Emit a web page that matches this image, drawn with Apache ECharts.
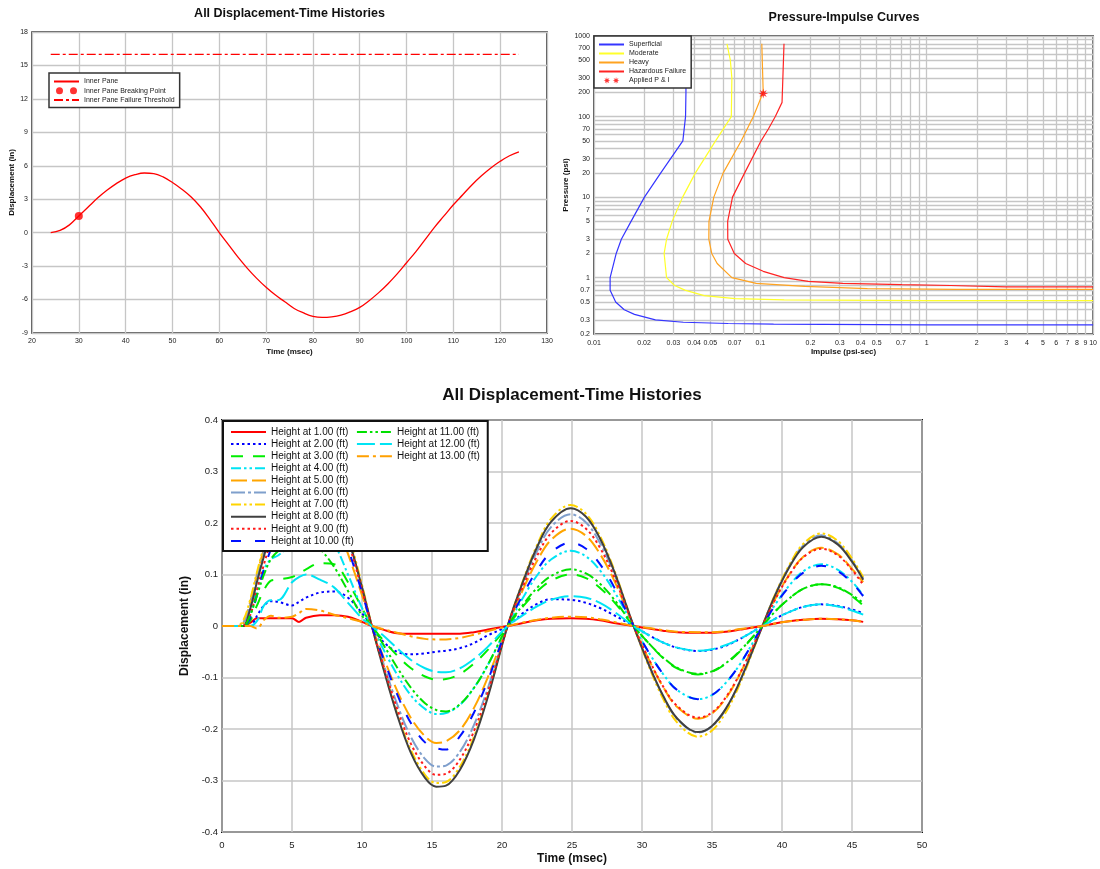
<!DOCTYPE html>
<html><head><meta charset="utf-8">
<script src="https://cdn.jsdelivr.net/npm/echarts@6/dist/echarts.min.js"></script>
<style>html,body{margin:0;padding:0;background:#fff}#c{width:1100px;height:869px}</style>
</head><body><div id="c"></div>
<script>
// ---------- Chart 1 data ----------
const paneTime = [24,26,28,30,32,34,36,38,40,42,44,46,48,50,52,54,56,58,60,62,64,66,68,70,72,74,76,78,80,82,84,86,88,90,92,94,96,98,100,102,104,106,108,110,112,114,116,118,120,122,124];
const paneDisp = [0,0.2,0.7,1.5,2.3,3.1,3.8,4.4,4.9,5.2,5.35,5.3,5.0,4.5,3.9,3.2,2.3,1.2,0.0,-1.1,-2.2,-3.2,-4.1,-4.9,-5.6,-6.2,-6.8,-7.2,-7.5,-7.6,-7.55,-7.4,-7.1,-6.7,-6.1,-5.4,-4.6,-3.7,-2.7,-1.7,-0.6,0.5,1.5,2.5,3.4,4.3,5.1,5.8,6.4,6.9,7.25];
const breakTime = [30];
const breakDisp = [1.5];
const thresholdTime = [24, 124];
const thresholdDisp = [16, 16];

// ---------- Chart 2 data (impulse psi-sec, pressure psi) ----------
const supI = [0.0357,0.0357,0.0355,0.0342,0.0252,0.0201,0.0167,0.0146,0.0136,0.0125,0.0125,0.0135,0.0152,0.0175,0.0234,0.0344,0.064,0.12,1,10];
const supP = [800,200,100,50,20,10,5,3,2,1,0.7,0.5,0.4,0.35,0.3,0.28,0.27,0.265,0.26,0.26];
const modI = [0.063,0.066,0.0674,0.0669,0.0538,0.0407,0.0341,0.0295,0.0273,0.0264,0.0273,0.0305,0.0352,0.0459,0.0707,0.139,1,10];
const modP = [800,500,300,100,50,20,10,5,3,2,1,0.8,0.7,0.6,0.55,0.53,0.52,0.52];
const heavyI = [0.102,0.104,0.0908,0.0768,0.0598,0.0525,0.0491,0.049,0.051,0.055,0.0674,0.0944,0.185,0.44,1.5,10];
const heavyP = [800,200,100,50,20,10,5,3,2,1.5,1,0.85,0.78,0.73,0.715,0.715];
const hazI = [0.1387,0.135,0.123,0.1117,0.101,0.0805,0.068,0.0636,0.0637,0.0697,0.0816,0.104,0.139,0.194,0.313,0.71,1.39,3,10];
const hazP = [800,150,100,70,50,20,10,5,3,2,1.5,1.2,1,0.9,0.85,0.82,0.8,0.77,0.77];
const appliedI = [0.104];
const appliedP = [193];
const impulseLabels = [0.01,0.02,0.03,0.04,0.05,0.07,0.1,0.2,0.3,0.4,0.5,0.7,1,2,3,4,5,6,7,8,9,10];
const impulseGrid = [0.01,0.02,0.03,0.04,0.05,0.06,0.07,0.08,0.09,0.1,0.2,0.3,0.4,0.5,0.6,0.7,0.8,0.9,1,2,3,4,5,6,7,8,9,10];
const pressureLabels = [0.2,0.3,0.5,0.7,1,2,3,5,7,10,20,30,50,70,100,200,300,500,700,1000];
const pressureGrid = [0.2,0.3,0.4,0.5,0.6,0.7,0.8,0.9,1,2,3,4,5,6,7,8,9,10,20,30,40,50,60,70,80,90,100,200,300,400,500,600,700,800,900,1000];

// ---------- Chart 3 data ----------
const time = [0,1,1.5,2,2.5,3,3.5,4,5,5.5,6,7,8,9,10,10.7,11.5,12.5,13.5,14.5,15.3,16,17,18,19,20.4,21.5,22.5,23.5,24.9,26,27,28,29.4,30.5,31.5,32.5,34,35,36,37,38.6,39.5,40.5,41.5,42.8,44,45,45.8];
const h1 = [0,0,0,0.006,0.015,0.015,0.015,0.015,0.015,0.008,0.016,0.021,0.021,0.018,0.008,0,-0.007,-0.014,-0.015,-0.015,-0.015,-0.015,-0.015,-0.012,-0.007,0,0.006,0.011,0.014,0.015,0.014,0.011,0.006,0,-0.005,-0.009,-0.012,-0.013,-0.013,-0.011,-0.007,0,0.005,0.009,0.012,0.014,0.013,0.011,0.008];
const h2 = [0,0,0,0,0.02,0.04,0.048,0.047,0.04,0.047,0.055,0.065,0.067,0.055,0.025,0,-0.03,-0.05,-0.055,-0.053,-0.05,-0.048,-0.043,-0.033,-0.018,0,0.025,0.043,0.052,0.051,0.045,0.035,0.021,0,-0.018,-0.032,-0.042,-0.0485,-0.046,-0.038,-0.025,0,0.014,0.027,0.037,0.042,0.039,0.032,0.025];
const h3 = [0,0,0,0.01,0.04,0.07,0.088,0.09,0.095,0.102,0.11,0.122,0.12,0.085,0.035,0,-0.027,-0.057,-0.082,-0.098,-0.104,-0.103,-0.093,-0.073,-0.046,0,0.038,0.067,0.088,0.1,0.093,0.074,0.047,0,-0.034,-0.062,-0.082,-0.094,-0.089,-0.073,-0.049,0,0.028,0.053,0.072,0.081,0.074,0.058,0.04];
const h4 = [0,0,0,0.02,0.07,0.11,0.13,0.137,0.16,0.178,0.19,0.19,0.16,0.1,0.035,0,-0.044,-0.094,-0.135,-0.161,-0.171,-0.169,-0.153,-0.12,-0.075,0,0.055,0.098,0.129,0.146,0.135,0.108,0.068,0,-0.052,-0.093,-0.124,-0.142,-0.134,-0.11,-0.074,0,0.041,0.078,0.106,0.12,0.109,0.086,0.06];
const h5 = [0,0,0.005,0.045,0.1,0.15,0.19,0.22,0.26,0.268,0.27,0.25,0.21,0.14,0.06,0,-0.058,-0.125,-0.179,-0.214,-0.227,-0.224,-0.202,-0.159,-0.099,0,0.071,0.126,0.167,0.189,0.175,0.14,0.089,0,-0.066,-0.118,-0.157,-0.18,-0.17,-0.14,-0.093,0,0.052,0.099,0.134,0.152,0.139,0.111,0.085];
const h6 = [0,0,0.005,0.04,0.095,0.145,0.19,0.23,0.28,0.293,0.3,0.29,0.25,0.17,0.075,0,-0.07,-0.151,-0.216,-0.258,-0.273,-0.271,-0.244,-0.192,-0.12,0,0.081,0.145,0.192,0.217,0.201,0.161,0.102,0,-0.076,-0.136,-0.18,-0.207,-0.195,-0.161,-0.107,0,0.06,0.115,0.156,0.176,0.16,0.127,0.092];
const h7 = [0,0,0.01,0.05,0.105,0.155,0.2,0.24,0.29,0.303,0.31,0.3,0.26,0.18,0.08,0,-0.078,-0.169,-0.241,-0.289,-0.305,-0.303,-0.273,-0.215,-0.134,0,0.088,0.157,0.208,0.235,0.218,0.175,0.11,0,-0.079,-0.141,-0.187,-0.215,-0.203,-0.167,-0.112,0,0.061,0.117,0.159,0.18,0.165,0.131,0.095];
const h8 = [0,0,0,0.032,0.086,0.136,0.182,0.223,0.283,0.3,0.309,0.298,0.251,0.173,0.075,0,-0.08,-0.172,-0.247,-0.295,-0.312,-0.31,-0.279,-0.22,-0.137,0,0.086,0.153,0.202,0.2285,0.212,0.17,0.107,0,-0.076,-0.135,-0.179,-0.206,-0.194,-0.16,-0.107,0,0.059,0.113,0.153,0.1735,0.158,0.125,0.09];
const h9 = [0,0,0,0.02,0.07,0.12,0.165,0.2,0.26,0.278,0.29,0.28,0.24,0.165,0.07,0,-0.074,-0.16,-0.229,-0.273,-0.289,-0.287,-0.259,-0.204,-0.127,0,0.077,0.136,0.18,0.204,0.189,0.152,0.096,0,-0.065,-0.117,-0.155,-0.178,-0.168,-0.138,-0.092,0,0.051,0.098,0.133,0.15,0.137,0.109,0.08];
const h10 = [0,0,0,0.015,0.06,0.11,0.15,0.185,0.24,0.258,0.27,0.26,0.22,0.15,0.065,0,-0.061,-0.132,-0.189,-0.226,-0.237,-0.24,-0.214,-0.168,-0.105,0,0.061,0.108,0.143,0.162,0.15,0.12,0.076,0,-0.052,-0.093,-0.124,-0.142,-0.134,-0.11,-0.074,0,0.04,0.076,0.103,0.117,0.106,0.084,0.058];
const h11 = [0,0,0,0.02,0.06,0.1,0.13,0.145,0.165,0.17,0.172,0.15,0.115,0.068,0.02,0,-0.035,-0.08,-0.12,-0.15,-0.163,-0.166,-0.152,-0.12,-0.075,0,0.041,0.074,0.097,0.11,0.102,0.082,0.052,0,-0.034,-0.061,-0.081,-0.093,-0.088,-0.072,-0.048,0,0.028,0.053,0.072,0.081,0.075,0.06,0.045];
const h12 = [0,0,0,0,0.01,0.04,0.05,0.05,0.085,0.095,0.1,0.09,0.075,0.045,0.015,0,-0.018,-0.043,-0.066,-0.082,-0.089,-0.09,-0.082,-0.064,-0.04,0,0.021,0.038,0.051,0.058,0.055,0.045,0.028,0,-0.018,-0.032,-0.042,-0.048,-0.045,-0.037,-0.025,0,0.014,0.027,0.037,0.042,0.038,0.03,0.022];
const h13 = [0,0,0,0,-0.005,0.012,0.02,0.016,0.018,0.025,0.033,0.03,0.022,0.015,0.008,0,-0.006,-0.013,-0.02,-0.025,-0.026,-0.026,-0.023,-0.017,-0.01,0,0.007,0.012,0.016,0.018,0.017,0.013,0.008,0,-0.004,-0.008,-0.011,-0.012,-0.012,-0.01,-0.006,0,0.005,0.009,0.012,0.014,0.013,0.011,0.008];
const heightNames = ['Height at 1.00 (ft)','Height at 2.00 (ft)','Height at 3.00 (ft)','Height at 4.00 (ft)','Height at 5.00 (ft)','Height at 6.00 (ft)','Height at 7.00 (ft)','Height at 8.00 (ft)','Height at 9.00 (ft)','Height at 10.00 (ft)','Height at 11.00 (ft)','Height at 12.00 (ft)','Height at 13.00 (ft)'];
const heightValues = [h1,h2,h3,h4,h5,h6,h7,h8,h9,h10,h11,h12,h13];

// ---------- styles ----------
const FONT = '"Liberation Sans", Arial, Helvetica, sans-serif';
const GRIDC = '#c6c6c6';
const heightColors = ['#ff0000','#0000ff','#00ee00','#00e4f4','#ffa500','#7f9fcc','#ffd400','#404040','#ff1a1a','#0010ff','#00e000','#00e4f4','#ffa000'];
const DOT = [2.5,3], LDASH = [12,10], DASHDOT = [14,3,3,3], DDD = [10,3,2.5,3,2.5,3];
const heightDash = ['solid',DOT,LDASH,DDD,[16,5],DASHDOT,DDD,'solid',DOT,[10,14],DDD,[18,5],[12,4,3,4]];

function zip(xs, ys){ return xs.map((x,i)=>[x, ys[i]]); }
const twoDots = 'path://M0,3a3,3 0 1,0 6,0a3,3 0 1,0 -6,0zM12,3a3,3 0 1,0 6,0a3,3 0 1,0 -6,0z';
const starPath = 'M10,5L6.85,5.77L8.54,8.54L5.77,6.85L5,10L4.23,6.85L1.46,8.54L3.15,5.77L0,5L3.15,4.23L1.46,1.46L4.23,3.15L5,0L5.77,3.15L8.54,1.46L6.85,4.23Z';
const twoStars = 'path://' + starPath + 'M23,5L19.85,5.77L21.54,8.54L18.77,6.85L18,10L17.23,6.85L14.46,8.54L16.15,5.77L13,5L16.15,4.23L14.46,1.46L17.23,3.15L18,0L18.77,3.15L21.54,1.46L19.85,4.23Z';
const noSym = {color:'rgba(0,0,0,0)', borderWidth:0, opacity:0};
function lineItem(name){ return {name:name, itemStyle:noSym}; }

function fmtNum(v){ return String(+(+v).toPrecision(4)); }

const smallLabel = {fontSize:7, color:'#222', fontFamily:FONT};
const smallName = {fontSize:8, fontWeight:'bold', color:'#111', fontFamily:FONT};
const split = {show:true, lineStyle:{color:GRIDC, width:1.3}};

const series = [];
// chart 1
series.push({name:'Inner Pane', type:'line', xAxisIndex:0, yAxisIndex:0, data:zip(paneTime,paneDisp), smooth:0.4, symbol:'none', lineStyle:{color:'#ff0000', width:1.3}, itemStyle:{color:'#ff0000'}, z:3});
series.push({name:'Inner Pane Breaking Point', type:'scatter', xAxisIndex:0, yAxisIndex:0, data:zip(breakTime,breakDisp), symbol:'circle', symbolSize:8, itemStyle:{color:'#ff0000'}, z:4});
series.push({name:'Inner Pane Failure Threshold', type:'line', xAxisIndex:0, yAxisIndex:0, data:zip(thresholdTime,thresholdDisp), symbol:'none', lineStyle:{color:'#ff0000', width:1.3, type:[9,3,3,3]}, itemStyle:{color:'#ff0000'}, z:3});
// chart 2
const piDefs = [['Superficial',supI,supP,'#3535ff'],['Moderate',modI,modP,'#ffff2a'],['Heavy',heavyI,heavyP,'#ffa320'],['Hazardous Failure',hazI,hazP,'#ff2424']];
piDefs.forEach(d=>series.push({name:d[0], type:'line', xAxisIndex:1, yAxisIndex:1, data:zip(d[1],d[2]), symbol:'none', lineStyle:{color:d[3], width:1.2}, itemStyle:{color:d[3]}, z:3}));
series.push({name:'Applied P & I', type:'scatter', xAxisIndex:1, yAxisIndex:1, data:zip(appliedI,appliedP), symbol:'path://'+starPath, symbolSize:10, itemStyle:{color:'#ff0000'}, z:4});
// chart 3
heightValues.forEach((vals,i)=>series.push({name:heightNames[i], type:'line', xAxisIndex:2, yAxisIndex:2, data:zip(time,vals), smooth:0.35, symbol:'none', lineStyle:{color:heightColors[i], width:2, type:heightDash[i]}, itemStyle:{color:heightColors[i]}, z:3}));

const option = {
  animation:false,
  backgroundColor:'#fff',
  textStyle:{fontFamily:FONT},
  title:[
    {text:'All Displacement-Time Histories', left:289.5, top:7, textAlign:'center', padding:0, textStyle:{fontSize:12.5, fontWeight:'bold', color:'#111', fontFamily:FONT}},
    {text:'Pressure-Impulse Curves', left:844, top:11, textAlign:'center', padding:0, textStyle:{fontSize:12.5, fontWeight:'bold', color:'#111', fontFamily:FONT}},
    {text:'All Displacement-Time Histories', left:572, top:387, textAlign:'center', padding:0, textStyle:{fontSize:17, fontWeight:'bold', color:'#111', fontFamily:FONT}}
  ],
  grid:[
    {left:32, top:32, width:515, height:301, show:true, borderColor:'#222', borderWidth:1.5, backgroundColor:'transparent'},
    {left:594, top:36, width:500, height:298, show:true, borderColor:'#222', borderWidth:1.5, backgroundColor:'transparent'},
    {left:222, top:420, width:700, height:412, show:true, borderColor:'#111', borderWidth:2, backgroundColor:'transparent'}
  ],
  xAxis:[
    {type:'value', gridIndex:0, min:20, max:130, interval:10, axisLine:{show:false}, axisTick:{show:false},
     axisLabel:Object.assign({margin:5}, smallLabel), splitLine:split,
     name:'Time (msec)', nameLocation:'middle', nameGap:15, nameTextStyle:smallName},
    {type:'log', gridIndex:1, logBase:10, min:0.01, max:10, axisLine:{show:false},
     axisTick:{show:false, customValues:impulseGrid},
     axisLabel:Object.assign({margin:6, customValues:impulseLabels, formatter:fmtNum, showMinLabel:true, showMaxLabel:true}, smallLabel),
     splitLine:split,
     name:'Impulse (psi-sec)', nameLocation:'middle', nameGap:14, nameTextStyle:smallName},
    {type:'value', gridIndex:2, min:0, max:50, interval:5, axisLine:{show:false}, axisTick:{show:false},
     axisLabel:{margin:8, fontSize:9.5, color:'#222', fontFamily:FONT}, splitLine:{show:true, lineStyle:{color:GRIDC, width:1.5}},
     name:'Time (msec)', nameLocation:'middle', nameGap:21, nameTextStyle:{fontSize:12, fontWeight:'bold', color:'#111', fontFamily:FONT}}
  ],
  yAxis:[
    {type:'value', gridIndex:0, min:-9, max:18, interval:3, axisLine:{show:false}, axisTick:{show:false},
     axisLabel:Object.assign({margin:4}, smallLabel), splitLine:split,
     name:'Displacement (in)', nameLocation:'middle', nameGap:16, nameTextStyle:smallName},
    {type:'log', gridIndex:1, logBase:10, min:0.2, max:1000, axisLine:{show:false},
     axisTick:{show:false, customValues:pressureGrid},
     axisLabel:Object.assign({margin:4, customValues:pressureLabels, formatter:fmtNum, showMinLabel:true, showMaxLabel:true}, smallLabel),
     splitLine:split,
     name:'Pressure (psi)', nameLocation:'middle', nameGap:24, nameTextStyle:smallName},
    {type:'value', gridIndex:2, min:-0.4, max:0.4, interval:0.1, axisLine:{show:false}, axisTick:{show:false},
     axisLabel:{margin:4, fontSize:9.5, color:'#222', fontFamily:FONT, formatter:v=>fmtNum(v.toFixed(1))}, splitLine:{show:true, lineStyle:{color:GRIDC, width:1.5}},
     name:'Displacement (in)', nameLocation:'middle', nameGap:27, nameTextStyle:{fontSize:12, fontWeight:'bold', color:'#111', fontFamily:FONT}}
  ],
  legend:[
    {data:[lineItem('Inner Pane'),{name:'Inner Pane Breaking Point', icon:twoDots},lineItem('Inner Pane Failure Threshold')],
     orient:'vertical', left:49, top:73, padding:[5,5,4,4], itemWidth:25, itemHeight:7, itemGap:2.3,
     backgroundColor:'#fff', borderColor:'#333', borderWidth:1.5, selectedMode:false,
     textStyle:{fontSize:7, color:'#222', fontFamily:FONT}},
    {data:[lineItem('Superficial'),lineItem('Moderate'),lineItem('Heavy'),lineItem('Hazardous Failure'),{name:'Applied P & I', icon:twoStars}],
     orient:'vertical', left:594, top:36, padding:[5,5,4,4], itemWidth:25, itemHeight:7, itemGap:2,
     backgroundColor:'#fff', borderColor:'#333', borderWidth:1.5, selectedMode:false,
     textStyle:{fontSize:7, color:'#222', fontFamily:FONT}},
    {data:heightNames.map(lineItem), orient:'vertical', left:223, top:421, height:120, padding:[6,8,5,7],
     itemWidth:35, itemHeight:10, itemGap:2.1,
     backgroundColor:'#fff', borderColor:'#111', borderWidth:2, selectedMode:false,
     textStyle:{fontSize:10, color:'#111', fontFamily:FONT}}
  ],
  series:series
};
const chart = echarts.init(document.getElementById('c'), null, {renderer:'canvas'});
chart.setOption(option);
</script></body></html>
